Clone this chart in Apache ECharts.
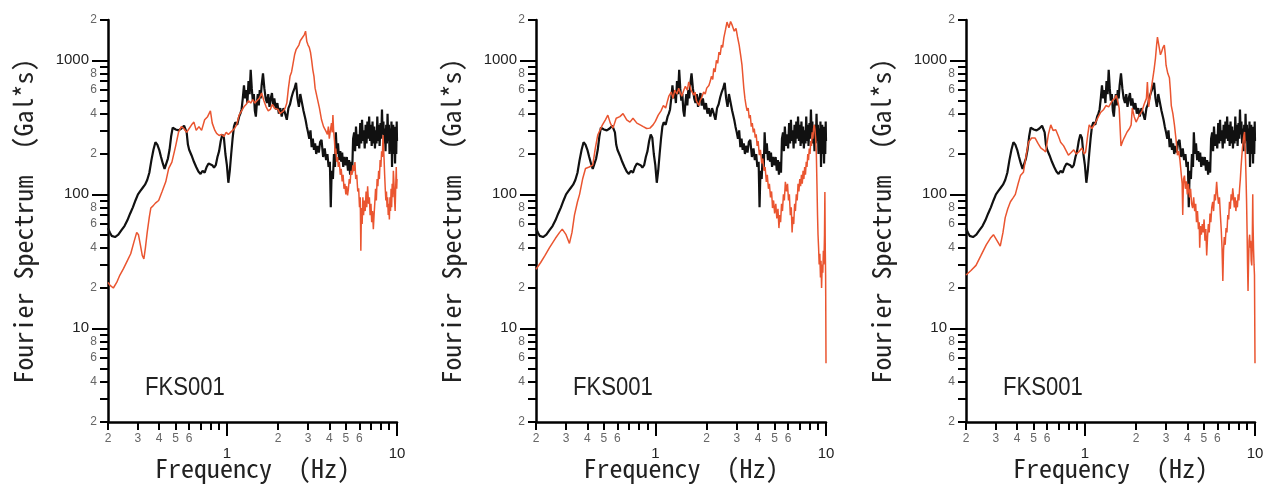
<!DOCTYPE html>
<html>
<head>
<meta charset="utf-8">
<script src="https://cdn.jsdelivr.net/npm/echarts@6/dist/echarts.min.js"></script>
<style>html,body{margin:0;padding:0;background:#fff}#c{width:1267px;height:491px}</style>
</head>
<body>
<div id="c"></div>
<script>
// ---------- data: [frequency (Hz), Fourier amplitude (Gal*s)] ----------
const observedBlack = [[0.200,56],[0.205,52],[0.210,49],[0.220,48],[0.230,50],[0.240,54],[0.250,58],[0.260,64],[0.270,72],[0.280,80],[0.290,90],[0.300,100],[0.310,106],[0.320,112],[0.330,118],[0.340,128],[0.350,145],[0.360,180],[0.370,215],[0.380,245],[0.390,235],[0.400,215],[0.410,190],[0.420,170],[0.430,155],[0.440,158],[0.450,185],[0.460,215],[0.470,270],[0.480,315],[0.490,320],[0.500,305],[0.520,300],[0.540,310],[0.560,325],[0.570,330],[0.580,290],[0.590,235],[0.600,215],[0.620,195],[0.640,175],[0.660,160],[0.680,148],[0.700,142],[0.720,150],[0.740,145],[0.760,160],[0.780,170],[0.800,172],[0.820,165],[0.840,158],[0.860,165],[0.880,190],[0.900,210],[0.920,250],[0.940,280],[0.960,265],[0.980,200],[1.000,165],[1.020,122],[1.040,150],[1.060,200],[1.080,260],[1.100,320],[1.120,345],[1.150,330],[1.180,380],[1.200,400],[1.220,430],[1.240,520],[1.260,650],[1.280,520],[1.300,600],[1.320,480],[1.340,700],[1.360,560],[1.380,850],[1.400,620],[1.420,500],[1.440,560],[1.460,420],[1.480,380],[1.500,480],[1.520,560],[1.540,460],[1.560,600],[1.580,520],[1.600,650],[1.630,800],[1.660,620],[1.690,520],[1.720,480],[1.750,560],[1.780,450],[1.810,520],[1.840,570],[1.870,460],[1.900,520],[1.940,430],[1.980,480],[2.020,400],[2.060,440],[2.100,380],[2.150,440],[2.200,400],[2.250,360],[2.300,440],[2.350,470],[2.400,530],[2.450,580],[2.500,620],[2.550,680],[2.600,520],[2.650,450],[2.700,560],[2.760,550],[2.820,420],[2.900,360],[2.950,320],[3.000,290],[3.050,260],[3.100,300],[3.150,225],[3.200,260],[3.250,215],[3.300,240],[3.350,200],[3.400,230],[3.470,205],[3.530,245],[3.600,255],[3.680,190],[3.760,220],[3.830,180],[3.900,200],[3.960,160],[4.030,175],[4.080,80],[4.130,150],[4.200,130],[4.260,200],[4.320,160],[4.370,290],[4.430,200],[4.500,240],[4.570,180],[4.640,210],[4.700,175],[4.760,205],[4.830,160],[4.900,190],[5.000,165],[5.070,190],[5.150,150],[5.230,180],[5.300,140],[5.380,175],[5.450,145],[5.520,260],[5.600,290],[5.670,210],[5.740,320],[5.820,230],[5.900,280],[6.000,220],[6.080,340],[6.160,240],[6.230,360],[6.300,250],[6.380,300],[6.460,220],[6.540,330],[6.620,240],[6.700,350],[6.780,260],[6.860,380],[6.940,250],[7.020,330],[7.100,230],[7.180,350],[7.260,240],[7.340,320],[7.420,220],[7.500,300],[7.580,240],[7.660,380],[7.740,250],[7.820,330],[7.900,230],[8.000,340],[8.080,260],[8.160,430],[8.240,280],[8.320,350],[8.400,240],[8.480,310],[8.560,210],[8.640,330],[8.720,240],[8.800,400],[8.880,250],[8.960,330],[9.040,200],[9.120,310],[9.200,220],[9.280,350],[9.350,160],[9.420,280],[9.500,330],[9.580,200],[9.660,320],[9.740,170],[9.820,300],[9.900,200],[9.960,350],[10.0,250]];

const redPanel1 = [[0.200,22],[0.205,21],[0.215,20],[0.225,22],[0.235,25],[0.247,28],[0.260,32],[0.272,36],[0.284,44],[0.295,52],[0.302,50],[0.310,42],[0.318,35],[0.325,33],[0.332,40],[0.340,52],[0.350,68],[0.357,79],[0.368,82],[0.380,86],[0.397,90],[0.415,104],[0.437,124],[0.455,156],[0.475,174],[0.500,230],[0.520,292],[0.540,320],[0.558,310],[0.580,290],[0.600,310],[0.620,330],[0.640,346],[0.660,300],[0.685,320],[0.710,300],[0.740,360],[0.770,380],[0.800,420],[0.820,340],[0.850,300],[0.870,285],[0.900,275],[0.930,280],[0.960,270],[0.990,290],[1.020,280],[1.050,290],[1.080,300],[1.110,310],[1.140,330],[1.180,390],[1.220,420],[1.260,450],[1.300,470],[1.340,500],[1.380,480],[1.420,510],[1.460,480],[1.500,500],[1.550,520],[1.600,570],[1.650,500],[1.700,450],[1.750,420],[1.800,430],[1.850,470],[1.900,440],[1.950,450],[2.000,430],[2.050,400],[2.100,390],[2.150,420],[2.200,440],[2.250,480],[2.300,620],[2.350,760],[2.400,820],[2.450,950],[2.500,1100],[2.550,1200],[2.600,1250],[2.650,1300],[2.700,1400],[2.750,1450],[2.800,1500],[2.850,1550],[2.900,1650],[2.950,1380],[3.000,1300],[3.050,1250],[3.100,1150],[3.150,1000],[3.200,850],[3.250,760],[3.300,620],[3.400,520],[3.500,440],[3.600,360],[3.700,320],[3.800,300],[3.900,280],[3.950,320],[4.000,260],[4.060,300],[4.120,340],[4.160,290],[4.200,390],[4.240,300],[4.290,250],[4.330,200],[4.370,220],[4.420,175],[4.470,190],[4.520,160],[4.580,175],[4.640,140],[4.700,155],[4.760,125],[4.820,140],[4.880,110],[4.940,120],[5.000,100],[5.060,115],[5.120,98],[5.180,110],[5.240,130],[5.300,120],[5.360,150],[5.440,140],[5.500,165],[5.580,150],[5.660,174],[5.720,130],[5.800,140],[5.880,105],[5.950,111],[6.020,80],[6.080,95],[6.130,38],[6.180,79],[6.240,60],[6.300,95],[6.360,70],[6.420,90],[6.500,75],[6.580,105],[6.640,80],[6.720,115],[6.800,85],[6.880,95],[6.950,70],[7.030,85],[7.100,62],[7.180,75],[7.260,55],[7.330,70],[7.400,85],[7.480,110],[7.560,90],[7.640,130],[7.720,115],[7.800,150],[7.880,130],[7.960,180],[8.040,160],[8.120,210],[8.200,190],[8.280,277],[8.340,220],[8.400,180],[8.460,140],[8.530,110],[8.600,90],[8.670,105],[8.740,80],[8.810,95],[8.880,70],[8.950,85],[9.020,65],[9.090,95],[9.160,75],[9.230,110],[9.300,80],[9.370,120],[9.440,95],[9.520,150],[9.600,120],[9.680,90],[9.750,75],[9.820,110],[9.900,160],[9.960,110],[10.0,130]];

const redPanel2 = [[0.200,27.6],[0.213,31],[0.226,35],[0.240,40],[0.260,47],[0.275,52],[0.285,55],[0.300,50],[0.314,43],[0.325,52],[0.336,70],[0.350,88],[0.360,100],[0.375,130],[0.390,156],[0.410,160],[0.430,165],[0.445,220],[0.460,277],[0.490,330],[0.510,360],[0.527,390],[0.545,340],[0.565,312],[0.590,370],[0.620,380],[0.647,400],[0.680,360],[0.710,346],[0.740,370],[0.780,340],[0.815,330],[0.850,320],[0.890,310],[0.930,312],[0.970,330],[1.000,350],[1.040,390],[1.080,420],[1.115,460],[1.150,440],[1.180,500],[1.200,540],[1.240,580],[1.270,520],[1.300,600],[1.340,560],[1.370,620],[1.430,540],[1.470,600],[1.500,640],[1.540,600],[1.570,690],[1.620,600],[1.680,550],[1.710,580],[1.740,500],[1.800,460],[1.830,500],[1.860,520],[1.920,580],[1.960,560],[2.000,620],[2.060,650],[2.100,700],[2.130,760],[2.170,720],[2.200,870],[2.240,820],[2.280,1000],[2.320,950],[2.360,1150],[2.400,1100],[2.440,1300],[2.480,1250],[2.520,1470],[2.580,1700],[2.630,1930],[2.700,1750],[2.760,1950],[2.820,1830],[2.900,1650],[2.970,1730],[3.030,1500],[3.100,1300],[3.160,1100],[3.220,920],[3.300,620],[3.350,520],[3.400,460],[3.450,420],[3.500,440],[3.550,370],[3.600,390],[3.650,320],[3.700,340],[3.750,290],[3.800,310],[3.850,265],[3.900,280],[3.950,230],[4.000,250],[4.070,196],[4.130,215],[4.200,170],[4.260,185],[4.330,150],[4.400,160],[4.470,124],[4.530,140],[4.600,110],[4.660,120],[4.730,95],[4.800,105],[4.860,79],[4.930,90],[5.000,72],[5.080,85],[5.150,66],[5.230,78],[5.300,56],[5.360,70],[5.420,62],[5.490,85],[5.560,75],[5.630,100],[5.700,90],[5.780,124],[5.870,105],[5.950,120],[6.030,90],[6.100,100],[6.180,70],[6.260,80],[6.330,52],[6.400,68],[6.470,60],[6.550,85],[6.620,75],[6.700,100],[6.780,90],[6.860,120],[6.940,105],[7.020,130],[7.100,115],[7.180,140],[7.260,120],[7.340,150],[7.420,130],[7.500,160],[7.580,140],[7.660,175],[7.740,160],[7.820,200],[7.900,180],[7.980,220],[8.060,200],[8.140,250],[8.220,230],[8.300,290],[8.380,260],[8.460,310],[8.540,330],[8.620,300],[8.700,260],[8.780,200],[8.850,120],[8.920,70],[8.980,50],[9.050,40],[9.120,30],[9.200,36],[9.280,24],[9.350,32],[9.420,20],[9.500,30],[9.580,26],[9.650,38],[9.720,30],[9.800,50],[9.850,104],[9.900,40],[9.950,25],[10.0,5.5]];

const redPanel3 = [[0.200,25],[0.214,27],[0.229,29.5],[0.245,35],[0.263,42],[0.278,47],[0.290,50],[0.305,45],[0.318,41],[0.330,52],[0.340,67],[0.352,78],[0.365,88],[0.380,95],[0.390,100],[0.405,120],[0.418,138],[0.435,146],[0.450,190],[0.466,245],[0.486,263],[0.510,263],[0.530,240],[0.550,222],[0.570,215],[0.588,207],[0.610,280],[0.630,330],[0.650,300],[0.674,303],[0.700,270],[0.720,245],[0.750,230],[0.800,196],[0.830,205],[0.860,215],[0.890,200],[0.920,207],[0.960,222],[0.990,200],[1.010,207],[1.040,280],[1.060,330],[1.100,310],[1.150,340],[1.200,380],[1.240,410],[1.290,430],[1.330,460],[1.380,450],[1.450,500],[1.500,520],[1.530,550],[1.570,480],[1.590,440],[1.630,230],[1.670,250],[1.700,263],[1.770,292],[1.830,310],[1.870,330],[1.900,440],[1.950,380],[2.000,346],[2.050,370],[2.090,390],[2.170,420],[2.230,470],[2.300,520],[2.330,690],[2.370,450],[2.430,560],[2.490,690],[2.550,850],[2.600,1040],[2.640,1300],[2.670,1490],[2.720,1300],[2.780,1100],[2.820,1150],[2.880,1250],[2.930,1300],[2.970,1100],[3.000,920],[3.070,800],[3.140,740],[3.180,600],[3.220,460],[3.290,400],[3.360,330],[3.430,260],[3.500,196],[3.560,210],[3.620,180],[3.700,174],[3.730,120],[3.760,70],[3.800,130],[3.850,138],[3.900,110],[3.950,125],[4.000,100],[4.060,120],[4.120,95],[4.180,110],[4.240,85],[4.300,79],[4.360,95],[4.420,75],[4.480,85],[4.530,62],[4.590,75],[4.650,55],[4.700,62],[4.730,40],[4.780,58],[4.840,50],[4.900,60],[4.960,52],[5.020,65],[5.080,45],[5.140,55],[5.200,35],[5.260,48],[5.320,60],[5.380,52],[5.440,72],[5.500,62],[5.570,80],[5.640,88],[5.710,75],[5.780,100],[5.850,90],[5.950,124],[6.020,100],[6.100,85],[6.180,95],[6.260,70],[6.330,55],[6.400,40],[6.470,22.6],[6.530,38],[6.600,48],[6.680,42],[6.760,56],[6.840,52],[6.920,70],[7.000,65],[7.080,88],[7.160,78],[7.240,100],[7.320,90],[7.400,111],[7.480,95],[7.560,80],[7.640,95],[7.720,75],[7.800,90],[7.880,80],[7.960,100],[8.040,90],[8.120,111],[8.200,130],[8.280,160],[8.360,190],[8.440,222],[8.520,250],[8.600,275],[8.680,292],[8.740,240],[8.800,180],[8.860,130],[8.920,90],[8.980,55],[9.040,30],[9.100,19],[9.160,30],[9.230,45],[9.300,50],[9.360,40],[9.430,45],[9.500,32],[9.570,29.5],[9.640,45],[9.700,100],[9.740,60],[9.800,40],[9.870,30],[9.930,25],[10.0,5.5]];

const redSeries = [redPanel1, redPanel2, redPanel3];
const stationLabel = 'FKS001';

// ---------- axis ticks ----------
const xMajorTicks = [1, 10];
const xMinorTicks = [0.2,0.3,0.4,0.5,0.6,0.7,0.8,0.9,2,3,4,5,6,7,8,9];
const xMinorLabels = [0.2,0.3,0.4,0.5,0.6,2,3,4,5,6];
const yMajorTicks = [10, 100, 1000];
const yMinorTicks = [2,3,4,5,6,7,8,9,20,30,40,50,60,70,80,90,200,300,400,500,600,700,800,900,2000];
const yMinorLabels = [2,4,6,8,20,40,60,80,200,400,600,800,2000];

// ---------- layout ----------
const panelLeft = [108, 536, 966];
const panelWidth = [289, 290, 289];
const gridTop = 20, gridHeight = 402;

const MONO = "'Noto Sans Mono CJK JP','DejaVu Sans Mono',monospace";
const SANS = "'Liberation Sans',Arial,sans-serif";
const leadDigit = v => String(Math.round(v / Math.pow(10, Math.floor(Math.log10(v) + 1e-9))));
const plain = v => String(Math.round(v));

const grid = [], xAxis = [], yAxis = [], series = [], graphic = [];
for (let p = 0; p < 3; p++) {
  const g = { left: panelLeft[p], top: gridTop, width: panelWidth[p], height: gridHeight, containLabel: false, outerBoundsMode: 'none' };
  grid.push(Object.assign({}, g), Object.assign({}, g));
  const gMain = 2 * p, gMinor = 2 * p + 1;
  // main x axis (major ticks, title)
  xAxis.push({
    type: 'log', logBase: 10, gridIndex: gMain, min: 0.2, max: 10,
    axisLine: { show: true, onZero: false, lineStyle: { color: '#000', width: 2.5 } },
    axisTick: { show: true, customValues: xMajorTicks, length: 14, lineStyle: { color: '#000', width: 2 } },
    axisLabel: { show: true, customValues: xMajorTicks, margin: 24, fontSize: 15, color: '#222', fontFamily: SANS, formatter: plain },
    splitLine: { show: false }, minorTick: { show: false },
    name: 'Frequency  (Hz)', nameLocation: 'middle', nameGap: 33, nameMoveOverlap: false,
    nameTextStyle: { fontFamily: MONO, fontSize: 26, color: '#222' }
  });
  // minor x axis
  xAxis.push({
    type: 'log', logBase: 10, gridIndex: gMinor, min: 0.2, max: 10,
    axisLine: { show: false },
    axisTick: { show: true, customValues: xMinorTicks, length: 8, lineStyle: { color: '#000', width: 2 } },
    axisLabel: { show: true, customValues: xMinorLabels, margin: 11, fontSize: 12, color: '#666', fontFamily: SANS, formatter: v => leadDigit(v) },
    splitLine: { show: false }
  });
  yAxis.push({
    type: 'log', logBase: 10, gridIndex: gMain, min: 2, max: 2000,
    axisLine: { show: true, onZero: false, lineStyle: { color: '#000', width: 2.5 } },
    axisTick: { show: true, customValues: yMajorTicks, length: 16, lineStyle: { color: '#000', width: 2 } },
    axisLabel: { show: true, customValues: yMajorTicks, margin: 19, fontSize: 15, color: '#222', fontFamily: SANS, formatter: plain },
    splitLine: { show: false }, minorTick: { show: false },
    name: 'Fourier Spectrum  (Gal*s)', nameLocation: 'middle', nameRotate: 90, nameGap: 72, nameMoveOverlap: false,
    nameTextStyle: { fontFamily: MONO, fontSize: 26, color: '#222' }
  });
  yAxis.push({
    type: 'log', logBase: 10, gridIndex: gMinor, min: 2, max: 2000,
    axisLine: { show: false },
    axisTick: { show: true, customValues: yMinorTicks, length: 8, lineStyle: { color: '#000', width: 2 } },
    axisLabel: { show: true, customValues: yMinorLabels, margin: 11, fontSize: 12, color: '#666', fontFamily: SANS, formatter: v => leadDigit(v) },
    splitLine: { show: false }
  });
  series.push({
    type: 'line', name: 'observed', xAxisIndex: gMain, yAxisIndex: gMain,
    data: observedBlack, showSymbol: false, symbol: 'none', silent: true,
    lineStyle: { color: '#111', width: 2.2 }, z: 2
  });
  series.push({
    type: 'line', name: 'simulated', xAxisIndex: gMain, yAxisIndex: gMain,
    data: redSeries[p], showSymbol: false, symbol: 'none', silent: true,
    lineStyle: { color: '#ea5530', width: 1.5 }, z: 3
  });
  graphic.push({
    type: 'text', left: panelLeft[p] + 37, top: 375, scaleX: 0.85,
    style: { text: stationLabel, font: "26px 'Liberation Sans', Arial, sans-serif", fill: '#222' }
  });
}

const chart = echarts.init(document.getElementById('c'), null, { renderer: 'canvas' });
chart.setOption({
  animation: false,
  backgroundColor: '#fff',
  grid, xAxis, yAxis, series, graphic
});
</script>
</body>
</html>
